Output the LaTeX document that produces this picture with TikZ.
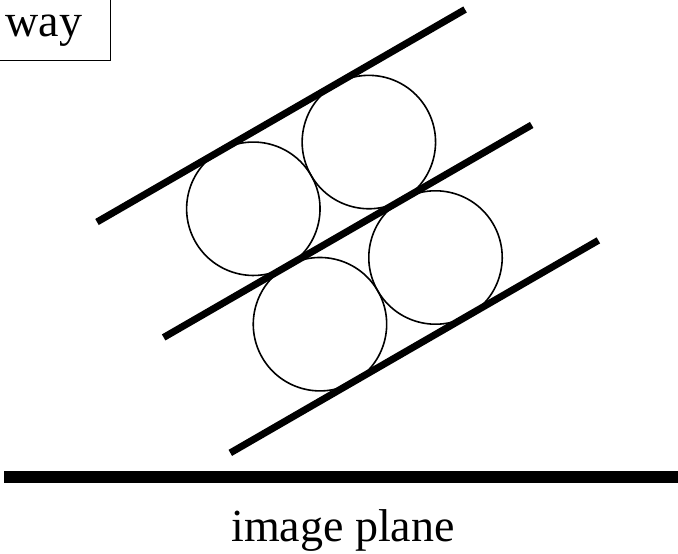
\documentclass[tikz,border=0pt]{standalone}
\usepackage{fontspec}
\setmainfont{Liberation Serif}
\usepackage{tikz}
\usetikzlibrary{positioning}

\begin{document}
\begin{tikzpicture}[x=1pt, y=1pt, font=\fontsize{46}{54}\selectfont,
    rail/.style={line width=7pt},
    ball/.style={line width=1.6pt},
    plane/.style={line width=12pt}]
    \useasboundingbox (0,0) rectangle (678,554);
    % label box, cut by the top left corner
    \node[draw, line width=1pt, anchor=base, inner sep=0pt, inner xsep=28pt,
          text height=60pt, text depth=24pt] (way) at (44,517) {way};
    % tilted layers with the round particles between them
    \begin{scope}[shift={(97,332)}, rotate=30]
        \foreach \k in {0,1,2}
            \draw[rail] (0,-133.3*\k) -- (425,-133.3*\k);
        \foreach \cx in {142,275.4}
            \foreach \cy in {-66.7,-200}
                \draw[ball] (\cx,\cy) circle (66.7);
    \end{scope}
    % image plane
    \coordinate (pl) at (4,77);
    \coordinate (pr) at (690,77);
    \draw[plane] (pl) -- (pr);
    \node[anchor=base] (label) at (343,12) {image plane};
\end{tikzpicture}
\end{document}
